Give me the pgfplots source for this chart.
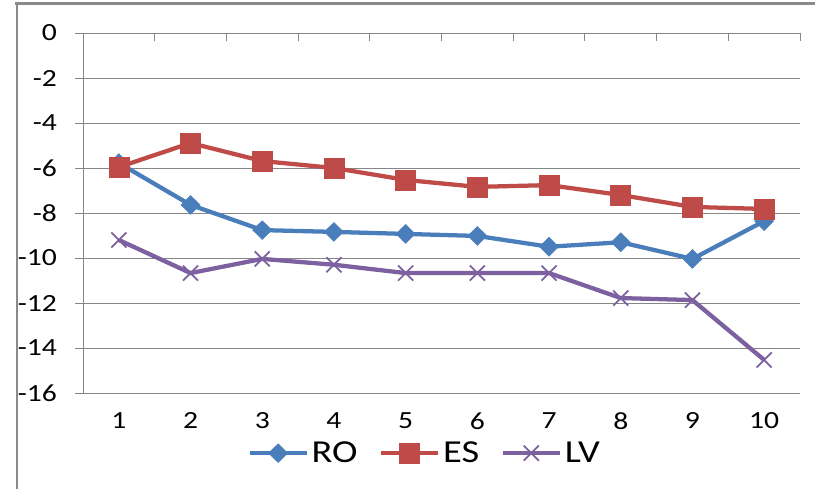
\documentclass[border=0pt]{standalone}
\usepackage{fontspec}
\setmainfont{Carlito}
\usepackage{pgfplots}
\pgfplotsset{compat=1.18}
\definecolor{roC}{HTML}{4A7EBB}
\definecolor{esC}{HTML}{BE4B48}
\definecolor{lvC}{HTML}{7D60A0}
\definecolor{gridC}{HTML}{868686}
\definecolor{frameC}{HTML}{8A8A8A}
\newcommand{\wide}[1]{\scalebox{1.2}[1]{#1}}
\begin{document}
\begin{tikzpicture}
\useasboundingbox (0,0) rectangle (611.25pt,-366.75pt);
\draw[frameC, line width=2.25pt] (11.5pt,-2.6pt) -- (611.25pt,-2.6pt);
\draw[frameC, line width=1.5pt] (12.75pt,-1.5pt) -- (12.75pt,-366.75pt);
\begin{axis}[
  at={(62.25pt,-24.75pt)}, anchor=north west,
  scale only axis, width=537.75pt, height=270pt,
  xmin=0.5, xmax=10.5, ymin=-16, ymax=0,
  axis x line*=bottom, axis y line*=left,
  x axis line style={draw=none},
  y axis line style={gridC, line width=0.75pt},
  xtick={1,...,10}, xtick style={draw=none},
  ytick={-16,-14,...,0},
  ytick pos=left, tick align=outside,
  major tick length=6pt,
  ytick style={gridC, line width=0.75pt},
  ymajorgrids, grid style={gridC, line width=0.75pt},
  /pgf/number format/assume math mode=true,
  ticklabel style={font=\fontsize{18.5}{20}\selectfont},
  xticklabel={\wide{\pgfmathprintnumber{\tick}}},
  yticklabel={\wide{\pgfmathprintnumber{\tick}}},
  yticklabel style={anchor=east, xshift=-10pt},
  xticklabel style={yshift=-5pt},
  legend columns=3,
  legend style={at={(0.477,-0.167)}, anchor=center, draw=none, fill=none,
    font=\fontsize{24}{26}\selectfont,
    /tikz/every even column/.append style={column sep=14pt}},
  legend image code/.code={
    \draw[mark repeat=2,mark phase=2] plot coordinates {(0pt,0pt) (21.5pt,0pt) (43pt,0pt)};
  },
  clip=false,
]
\addplot[roC, line width=3.2pt, mark=diamond*, mark size=7pt, mark options={solid, xscale=1.35, line width=0.5pt}]
coordinates {(1,-5.78) (2,-7.64) (3,-8.76) (4,-8.84) (5,-8.93) (6,-9.02) (7,-9.5) (8,-9.3) (9,-10.04) (10,-8.36)};
\addlegendentry{\wide{RO}}
\addplot[esC, line width=3.2pt, mark=square*, mark size=7.5pt, mark options={solid, line width=0.5pt}]
coordinates {(1,-5.96) (2,-4.89) (3,-5.69) (4,-6.0) (5,-6.53) (6,-6.84) (7,-6.76) (8,-7.2) (9,-7.73) (10,-7.82)};
\addlegendentry{\wide{ES}}
\addplot[lvC, line width=3.2pt, mark=x, mark size=8pt, mark options={solid, line width=1.3pt}]
coordinates {(1,-9.2) (2,-10.67) (3,-10.04) (4,-10.3) (5,-10.67) (6,-10.67) (7,-10.67) (8,-11.78) (9,-11.87) (10,-14.53)};
\addlegendentry{\wide{LV}}
\pgfplotsinvokeforeach{0.5,1.5,...,10.5}{
  \draw[gridC, line width=0.75pt] (axis cs:#1,0) -- ([yshift=-6pt]axis cs:#1,0);
}
\end{axis}
\end{tikzpicture}
\end{document}
